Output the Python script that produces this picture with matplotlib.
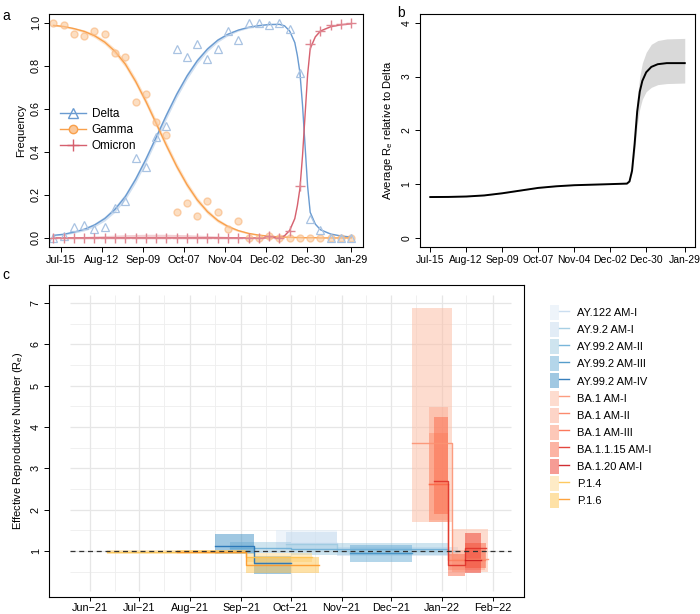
import matplotlib
matplotlib.use("Agg")
import matplotlib.pyplot as plt
from matplotlib.lines import Line2D
from matplotlib.patches import Patch
from matplotlib.legend_handler import HandlerTuple
import numpy as np
import pandas as pd

plt.rcParams["font.family"] = ["Liberation Sans", "DejaVu Sans"]
plt.rcParams["font.size"] = 8

# ---- panel a: weekly variant frequencies ----
OBS_START = pd.Timestamp("2021-07-10")
delta_obs = [0.0, 0.01, 0.05, 0.06, 0.04, 0.05, 0.14, 0.17, 0.37, 0.33,
             0.47, 0.52, 0.88, 0.84, 0.90, 0.83, 0.88, 0.96, 0.92, 1.0,
             1.0, 0.99, 1.0, 0.97, 0.765, 0.09, 0.035, 0.0, 0.0, 0.0]
gamma_obs = [1.0, 0.99, 0.95, 0.94, 0.96, 0.95, 0.86, 0.84, 0.63, 0.67,
             0.54, 0.48, 0.12, 0.16, 0.10, 0.17, 0.12, 0.04, 0.08, 0.0,
             0.0, 0.01, 0.0, 0.0, 0.0, 0.0, 0.0, 0.0, 0.0, 0.0]
omicron_obs = [0.0] * 21 + [0.01, 0.0, 0.03, 0.24, 0.90, 0.96, 0.99, 0.995, 1.0]

fit_weeks = list(range(23)) + [22.5, 23, 23.5, 23.75, 24, 24.25, 24.5, 24.75,
                               25, 25.5, 26, 27, 28, 29]
gamma_fit = [0.988, 0.983, 0.973, 0.960, 0.940, 0.910, 0.867, 0.808, 0.728, 0.635,
             0.533, 0.430, 0.333, 0.248, 0.177, 0.122, 0.081, 0.053, 0.034, 0.021,
             0.013, 0.008, 0.004, 0.004, 0.003, 0.002, 0.002, 0.002, 0.001, 0.001,
             0.001, 0.001, 0.001, 0.0, 0.0, 0.0, 0.0]
omicron_fit = [0.0] * 22 + [0.003, 0.01, 0.035, 0.09, 0.15, 0.23, 0.38, 0.57, 0.76,
                            0.88, 0.935, 0.962, 0.982, 0.991, 0.996]
delta_fit = [0.012, 0.017, 0.027, 0.040, 0.060, 0.090, 0.133, 0.192, 0.272, 0.365,
             0.467, 0.570, 0.667, 0.752, 0.823, 0.878, 0.919, 0.947, 0.966, 0.979,
             0.987, 0.992, 0.993, 0.986, 0.962, 0.908, 0.848, 0.768, 0.619, 0.429,
             0.239, 0.119, 0.064, 0.038, 0.018, 0.009, 0.004]
fit_halfwidth = [0.003, 0.004, 0.005, 0.007, 0.009, 0.011, 0.013, 0.015, 0.016, 0.017,
                 0.017, 0.017, 0.016, 0.015, 0.013, 0.011, 0.009, 0.007, 0.005, 0.004,
                 0.003, 0.002, 0.002] + [0.002] * 14

a_ticks = ["2021-07-15", "2021-08-12", "2021-09-09", "2021-10-07",
           "2021-11-04", "2021-12-02", "2021-12-30", "2022-01-29"]

# ---- panel b: average Re relative to Delta ----
b_dates = ["2021-07-15", "2021-07-29", "2021-08-12", "2021-08-26", "2021-09-09",
           "2021-09-23", "2021-10-07", "2021-10-21", "2021-11-04", "2021-11-18",
           "2021-12-02", "2021-12-15", "2021-12-17", "2021-12-19", "2021-12-21",
           "2021-12-23", "2021-12-25", "2021-12-27", "2021-12-30", "2022-01-03",
           "2022-01-08", "2022-01-15", "2022-01-29"]
b_mean = [0.76, 0.762, 0.77, 0.79, 0.83, 0.88, 0.93, 0.96, 0.98, 0.99,
          1.0, 1.01, 1.05, 1.25, 1.75, 2.35, 2.72, 2.92, 3.08, 3.18,
          3.23, 3.25, 3.25]
b_lo = [0.755, 0.757, 0.765, 0.785, 0.825, 0.875, 0.925, 0.955, 0.975, 0.985,
        0.995, 1.0, 1.04, 1.2, 1.6, 2.1, 2.4, 2.58, 2.72, 2.8,
        2.85, 2.87, 2.88]
b_hi = [0.765, 0.767, 0.775, 0.795, 0.835, 0.885, 0.935, 0.965, 0.985, 0.995,
        1.005, 1.02, 1.06, 1.3, 1.9, 2.6, 3.0, 3.25, 3.45, 3.6,
        3.67, 3.7, 3.71]

# ---- panel c: lineage Re segments ----
lineages = ["AY.122 AM-I", "AY.9.2 AM-I", "AY.99.2 AM-II", "AY.99.2 AM-III",
            "AY.99.2 AM-IV", "BA.1 AM-I", "BA.1 AM-II", "BA.1 AM-III",
            "BA.1.1.15 AM-I", "BA.1.20 AM-I", "P.1.4", "P.1.6"]
fill_colors = ["#deebf7", "#c6dbef", "#9ecae1", "#6baed6", "#4292c6",
               "#fcbba1", "#fcaa90", "#fc9272", "#fb6a4a", "#ef3b2c",
               "#fed98e", "#fec44f"]
line_colors = ["#c6dbef", "#9ecae1", "#6baed6", "#4292c6", "#2171b5",
               "#fc9272", "#fb7d5e", "#fb6a4a", "#e0332a", "#cb181d",
               "#fec44f", "#fe9929"]
seg_lineage = ["AY.122 AM-I", "AY.9.2 AM-I", "AY.9.2 AM-I", "AY.99.2 AM-II",
               "AY.99.2 AM-II", "AY.99.2 AM-III", "AY.99.2 AM-IV", "AY.99.2 AM-IV",
               "BA.1 AM-I", "BA.1 AM-I", "BA.1 AM-II", "BA.1 AM-II", "BA.1 AM-III",
               "BA.1.1.15 AM-I", "BA.1.1.15 AM-I", "BA.1.1.15 AM-I", "BA.1.20 AM-I",
               "P.1.4", "P.1.4", "P.1.6", "P.1.6"]
seg_start = ["2021-09-22", "2021-09-28", "2021-10-29", "2021-08-25", "2021-10-01",
             "2021-11-06", "2021-08-16", "2021-09-09", "2021-12-14", "2022-01-07",
             "2021-12-24", "2022-01-05", "2021-12-24", "2021-12-27", "2022-01-05",
             "2022-01-15", "2022-01-15", "2021-06-11", "2021-09-04", "2021-07-24",
             "2021-09-04"]
seg_end = ["2021-10-29", "2021-10-29", "2022-01-11", "2021-10-01", "2022-01-05",
           "2021-12-14", "2021-09-09", "2021-10-01", "2022-01-07", "2022-01-29",
           "2022-01-05", "2022-01-27", "2022-01-05", "2022-01-05", "2022-01-15",
           "2022-01-28", "2022-01-25", "2021-09-04", "2021-10-14", "2021-09-04",
           "2021-10-18"]
seg_med = [1.20, 1.18, 1.00, 1.08, 1.06, 0.96, 1.12, 0.72, 3.62, 0.80,
           2.62, 0.78, 2.62, 2.70, 0.65, 1.08, 0.79, 0.97, 0.85, 0.98, 0.66]
seg_lo = [1.03, 1.02, 0.88, 0.96, 0.91, 0.74, 0.92, 0.44, 1.69, 0.50,
          1.76, 0.55, 1.69, 1.90, 0.40, 0.60, 0.47, 0.93, 0.74, 0.94, 0.47]
seg_hi = [1.52, 1.45, 1.10, 1.22, 1.20, 1.15, 1.40, 0.87, 6.89, 1.53,
          4.49, 1.03, 3.86, 4.25, 0.92, 1.20, 1.44, 1.02, 0.96, 1.02, 0.86]

DELTA_C, GAMMA_C, OMI_C = "#6a9bd1", "#f9a04b", "#d6606e"
FILL_ALPHA = 0.5


def style_box(ax, size=8):
    for sp in ax.spines.values():
        sp.set_linewidth(0.8)
    ax.tick_params(length=3.5, width=0.7, labelsize=size, pad=2.5)
    for lab in ax.get_yticklabels():
        lab.set_rotation(90)
        lab.set_va("center")


def week_dates(weeks):
    return [OBS_START + pd.Timedelta(days=7 * w) for w in weeks]


fig = plt.figure(figsize=(7, 6.14), dpi=100)

# ---------------- panel a ----------------
ax_a = fig.add_axes([0.07, 0.5985, 0.4486, 0.3784])
fd = week_dates(fit_weeks)
od = week_dates(range(len(delta_obs)))
hw = np.array(fit_halfwidth)
for fit, col in [(delta_fit, DELTA_C), (gamma_fit, GAMMA_C), (omicron_fit, OMI_C)]:
    f = np.array(fit)
    ax_a.fill_between(fd, np.clip(f - hw, 0, 1), np.clip(f + hw, 0, 1),
                      color=col, alpha=0.3, lw=0)
    ax_a.plot(fd, f, color=col, lw=1.0)
ax_a.plot(od, gamma_obs, "o", ms=5, mfc="#fbc89a", mec="#f9b57a", alpha=0.6, ls="none")
ax_a.plot(od, delta_obs, "^", ms=6, mfc="none", mec="#a9c3e2", mew=0.9, ls="none")
ax_a.plot(od, omicron_obs, "+", ms=7, mec="#df8590", mew=1.0, ls="none")
ax_a.set_xlim(pd.Timestamp("2021-07-07"), pd.Timestamp("2022-02-06"))
ax_a.set_ylim(-0.04, 1.04)
ax_a.set_yticks([0, 0.2, 0.4, 0.6, 0.8, 1.0])
ax_a.set_yticklabels(["0.0", "0.2", "0.4", "0.6", "0.8", "1.0"])
ticks = pd.to_datetime(a_ticks)
ax_a.set_xticks(ticks)
ax_a.set_xticklabels([t.strftime("%b-%d") for t in ticks])
ax_a.set_ylabel("Frequency", fontsize=8, labelpad=3)
style_box(ax_a, 7.8)
leg_a = [Line2D([], [], color=DELTA_C, marker="^", mfc="none", ms=7, lw=1),
         Line2D([], [], color=GAMMA_C, marker="o", mfc="#fbc89a", ms=6, lw=1),
         Line2D([], [], color=OMI_C, marker="+", ms=9, lw=1)]
ax_a.legend(leg_a, ["Delta", "Gamma", "Omicron"], loc="center left",
            bbox_to_anchor=(0.0, 0.5), frameon=False, fontsize=8.5,
            handlelength=2.2, labelspacing=0.35, handletextpad=0.5)
fig.text(0.004, 0.985, "a", fontsize=10, va="top")

# ---------------- panel b ----------------
ax_b = fig.add_axes([0.6, 0.5985, 0.3929, 0.3784])
bd = pd.to_datetime(b_dates)
ax_b.fill_between(bd, b_lo, b_hi, color="#d9d9d9", lw=0)
ax_b.plot(bd, b_mean, color="black", lw=1.4)
ax_b.set_xlim(pd.Timestamp("2021-07-07"), pd.Timestamp("2022-02-06"))
ax_b.set_ylim(-0.16, 4.16)
ax_b.set_yticks([0, 1, 2, 3, 4])
ax_b.set_xticks(ticks)
ax_b.set_xticklabels([t.strftime("%b-%d") for t in ticks])
ax_b.set_ylabel("Average R$_\\mathregular{e}$ relative to Delta", fontsize=8, labelpad=5)
style_box(ax_b, 7.5)
fig.text(0.567, 0.99, "b", fontsize=10, va="top")

# ---------------- panel c ----------------
ax_c = fig.add_axes([0.07, 0.0277, 0.6786, 0.5081])
x0, x1 = pd.Timestamp("2021-05-20"), pd.Timestamp("2022-02-12")
ax_c.set_xlim(pd.Timestamp("2021-05-07"), pd.Timestamp("2022-02-20"))
ax_c.set_ylim(-0.113, 7.436)
months = pd.date_range("2021-06-01", "2022-02-01", freq="MS")
mids = months[:-1] + pd.Timedelta(days=15)
ax_c.hlines(np.arange(0.5, 7.0, 1.0), x0, x1, color="#eeeeee", lw=0.6, zorder=0)
ax_c.hlines(np.arange(1, 8), x0, x1, color="#e6e6e6", lw=0.9, zorder=0)
ax_c.vlines(mids, 0.02, 7.2, color="#eeeeee", lw=0.6, zorder=0)
ax_c.vlines(months, 0.02, 7.2, color="#e6e6e6", lw=0.9, zorder=0)

fill_of = dict(zip(lineages, fill_colors))
line_of = dict(zip(lineages, line_colors))
seg = pd.DataFrame({"lineage": seg_lineage, "start": pd.to_datetime(seg_start),
                    "end": pd.to_datetime(seg_end), "med": seg_med,
                    "lo": seg_lo, "hi": seg_hi})
for name in lineages:
    s = seg[seg["lineage"] == name]
    xs, ys = [], []
    for _, r in s.iterrows():
        ax_c.fill_between([r["start"], r["end"]], r["lo"], r["hi"],
                          color=fill_of[name], alpha=FILL_ALPHA, lw=0, zorder=2)
        xs += [r["start"], r["end"]]
        ys += [r["med"], r["med"]]
    ax_c.plot(xs, ys, color=line_of[name], lw=1.0, alpha=0.9, zorder=3)
ax_c.hlines(1, x0, x1, colors="#333333", linestyles=(0, (4, 3)), lw=0.9, zorder=4)

ax_c.set_yticks(range(1, 8))
ax_c.set_xticks(months)
ax_c.set_xticklabels([m.strftime("%b\u2212%y") for m in months])
ax_c.set_ylabel("Effective Reproductive Number (R$_\\mathregular{e}$)", fontsize=8, labelpad=4)
style_box(ax_c, 7.8)
ax_c.tick_params(axis="x", pad=1.5, length=3)
fig.text(0.004, 0.563, "c", fontsize=10, va="top")

handles = [(Patch(facecolor=fc, alpha=FILL_ALPHA, lw=0),
            Line2D([], [], color=lc, lw=1.0, alpha=0.9))
           for fc, lc in zip(fill_colors, line_colors)]
fig.legend(handles, lineages, loc="upper left", bbox_to_anchor=(550 / 700, 1 - 305 / 614),
           frameon=False, borderaxespad=0, borderpad=0, labelspacing=0.19,
           handlelength=1.7, handleheight=1.7, handletextpad=0.7, fontsize=8,
           handler_map={tuple: HandlerTuple(ndivide=None, pad=0)})

fig.savefig("out.png", dpi=100)
